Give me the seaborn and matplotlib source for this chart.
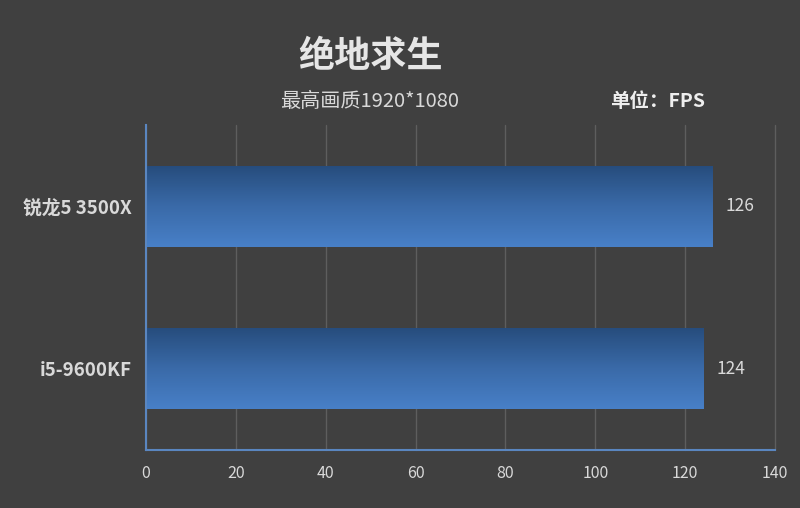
import matplotlib
matplotlib.use("Agg")
import matplotlib.pyplot as plt
import seaborn as sns
import numpy as np
import pandas as pd

cpus = ["锐龙5 3500X", "i5-9600KF"]
fps = [126, 124]
x_ticks = [0, 20, 40, 60, 80, 100, 120, 140]

title = "绝地求生"
subtitle = "最高画质1920*1080"
unit = "单位：FPS"

bg = "#404040"
txt = "#d9d9d9"

sns.set_theme(style="dark")
plt.rcParams["font.family"] = ["Noto Sans CJK SC", "DejaVu Sans"]

df = pd.DataFrame({"cpu": cpus, "fps": fps})

fig = plt.figure(figsize=(8, 5.08), dpi=100, facecolor=bg)
ax = fig.add_axes([0.1825, 0.1142, 0.7863, 0.6398])
ax.set_facecolor(bg)

sns.barplot(data=df, x="fps", y="cpu", orient="h", width=0.5,
            color="#3a6aa8", linewidth=0, ax=ax, zorder=3)

# vertical gradient inside each bar: dark top, lighter bottom
grad = np.linspace(0, 1, 256).reshape(-1, 1)
cmap = matplotlib.colors.LinearSegmentedColormap.from_list(
    "bar", ["#264c7c", "#3a6aa8", "#4880c8"])
for p in ax.patches:
    x0, y0 = p.get_x(), p.get_y()
    w, h = p.get_width(), p.get_height()
    im = ax.imshow(grad, cmap=cmap, aspect="auto", zorder=4,
                   extent=[x0, x0 + w, y0 + h, y0])
    im.set_clip_path(p)

ax.set_xlim(0, 140)
ax.set_ylim(1.5, -0.5)
ax.set_xticks(x_ticks)
ax.set_xticklabels([str(t) for t in x_ticks], color=txt, fontsize=11.5)
ax.tick_params(axis="x", length=0, pad=11)
ax.tick_params(axis="y", length=0, pad=10)
for lab in ax.get_yticklabels():
    lab.set_color(txt)
    lab.set_fontweight("bold")
    lab.set_fontsize(13.5)
ax.set_xlabel("")
ax.set_ylabel("")

ax.grid(axis="x", color="#5e5e5e", linewidth=1, zorder=0)
ax.grid(axis="y", visible=False)
for gl in ax.get_xgridlines():
    gl.set_clip_on(False)
for s in ["top", "right"]:
    ax.spines[s].set_visible(False)
for s in ["left", "bottom"]:
    ax.spines[s].set_visible(True)
    ax.spines[s].set_color("#5a86c0")
    ax.spines[s].set_linewidth(1.5)
    ax.spines[s].set_zorder(5)

for i, v in enumerate(fps):
    ax.text(v + 3, i, str(v), color=txt, fontsize=12.5, va="center", ha="left")

fig.text(0.4625, 0.888, title, color="#e6e6e6", fontsize=26,
         fontweight="bold", ha="center", va="center")
fig.text(0.4625, 0.80, subtitle, color=txt, fontsize=14.5,
         ha="center", va="center")
fig.text(0.822, 0.80, unit, color="#eeeeee", fontsize=14,
         fontweight="bold", ha="center", va="center")

fig.savefig("out.png", dpi=100, facecolor=bg)
